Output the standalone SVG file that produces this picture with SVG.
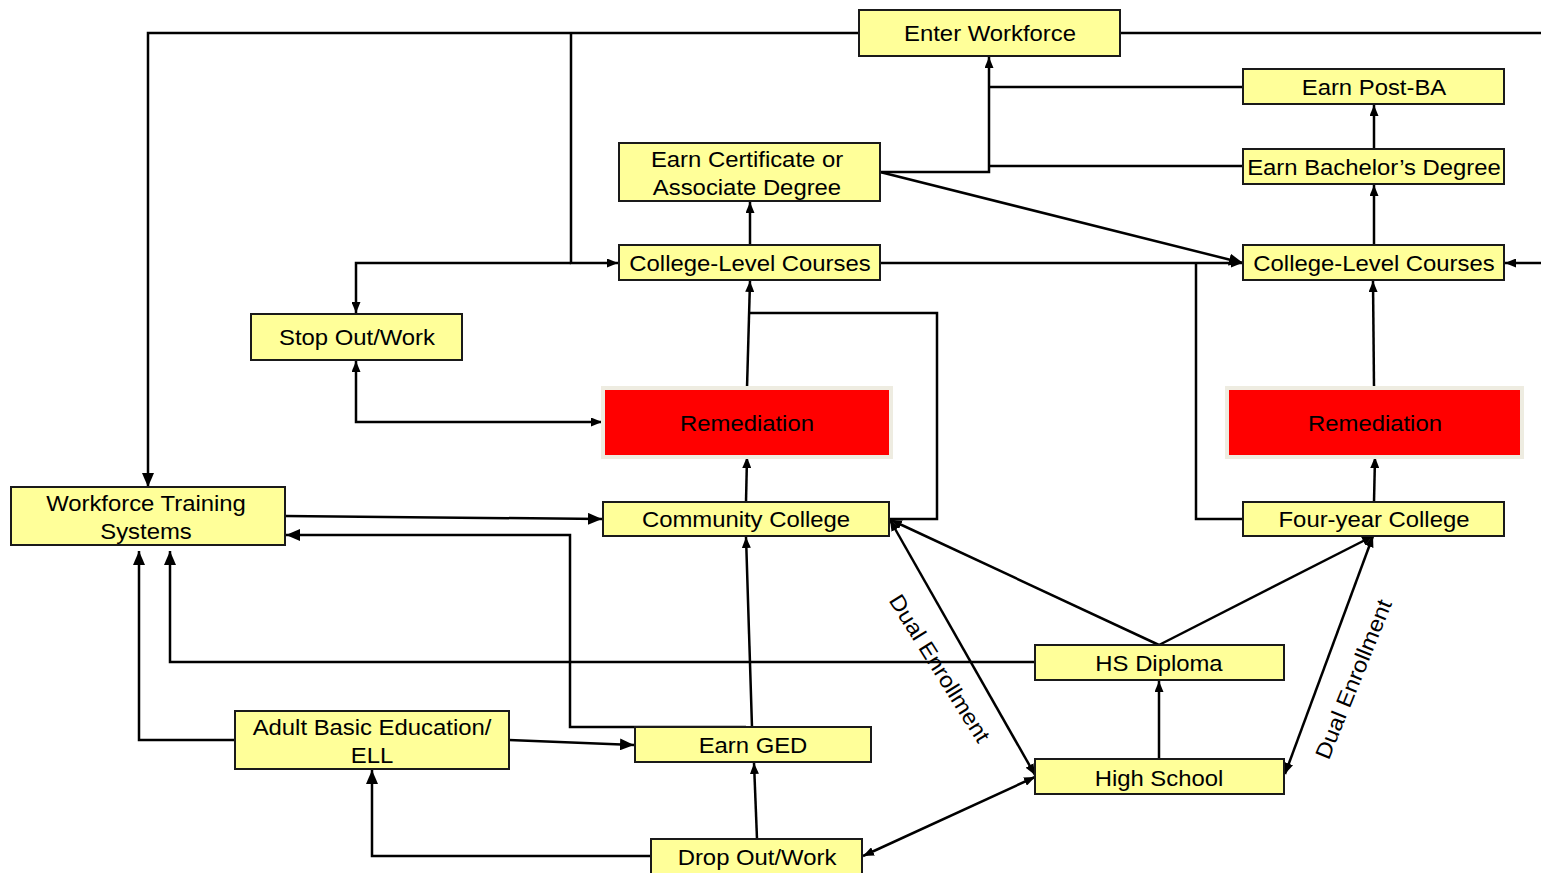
<svg xmlns="http://www.w3.org/2000/svg" width="1541" height="873" viewBox="0 0 1541 873">
<style>
.box{fill:#FFFF99;stroke:#1a1a1a;stroke-width:2}
.red{fill:#FF0000;stroke:#EEECE1;stroke-width:4}
.t{font-family:"Liberation Sans",Arial,sans-serif;font-size:22px;text-anchor:middle;fill:#000}
.c{fill:none;stroke:#000;stroke-width:2.5}
.s{marker-end:url(#a)}
.L{marker-end:url(#A)}
.d{marker-start:url(#a);marker-end:url(#a)}
</style>
<defs>
<marker id="a" viewBox="0 0 11 9" refX="11" refY="4.5" markerWidth="11" markerHeight="9" markerUnits="userSpaceOnUse" orient="auto-start-reverse"><path d="M0,0 L11,4.5 L0,9 z" fill="#000"/></marker>
<marker id="A" viewBox="0 0 14 12" refX="14" refY="6" markerWidth="14" markerHeight="12" markerUnits="userSpaceOnUse" orient="auto-start-reverse"><path d="M0,0 L14,6 L0,12 z" fill="#000"/></marker>
</defs>
<rect width="1541" height="873" fill="#fff"/>
<g id="connectors">
<path class="c L" d="M859,33 H148 V487"/>
<path class="c" d="M1120,33 H1541"/>
<path class="c s" d="M1541,263 H1505"/>
<path class="c s" d="M571,33 V263 H618"/>
<path class="c s" d="M571,263 H356 V313"/>
<path class="c d" d="M356,361 V422 H602"/>
<path class="c s" d="M747,388 L750,281"/>
<path class="c s" d="M746,502 L747,457"/>
<path class="c" d="M889,519 H937 V313 H750"/>
<path class="c s" d="M750,245 V202"/>
<path class="c s" d="M880,172 H989 V57"/>
<path class="c" d="M1243,87 H989"/>
<path class="c" d="M1243,166 H989"/>
<path class="c L" d="M880,172 L1243,263"/>
<path class="c s" d="M880,263 H1242"/>
<path class="c" d="M1243,519 H1196 V263"/>
<path class="c s" d="M1374,245 V185"/>
<path class="c s" d="M1374,149 V105"/>
<path class="c s" d="M1374,388 L1373,281"/>
<path class="c s" d="M1374,502 L1375,457"/>
<path class="c L" d="M285,516 L602,519"/>
<path class="c L" d="M746,727 H570 V535 H286"/>
<path class="c s" d="M752,727 L746,537"/>
<path class="c L" d="M509,740 L634,745"/>
<path class="c L" d="M235,740 H139 V551"/>
<path class="c L" d="M1035,662 H170 V551"/>
<path class="c L" d="M651,856 H372 V770"/>
<path class="c s" d="M757,839 L754,763"/>
<path class="c d" d="M863,856 L1035,777"/>
<path class="c d" d="M890,520 L1035,775"/>
<path class="c s" d="M1159,645 L891,520"/>
<path class="c s" d="M1159,645 L1373,536"/>
<path class="c s" d="M1159,759 V681"/>
<path class="c d" d="M1285,774 L1373,536"/>
<text class="t" transform="translate(940,668) rotate(58) scale(1.085 1)" y="8">Dual Enrollment</text>
<text class="t" transform="translate(1353,679) rotate(-68) scale(1.085 1)" y="8">Dual Enrollment</text>
</g>
<g id="enter-workforce"><rect class="box" x="859" y="10" width="261" height="46"/><text class="t" transform="translate(990,41) scale(1.085 1)">Enter Workforce</text></g>
<g id="earn-post-ba"><rect class="box" x="1243" y="69" width="261" height="35"/><text class="t" transform="translate(1374,95) scale(1.085 1)">Earn Post-BA</text></g>
<g id="earn-bachelors"><rect class="box" x="1243" y="149" width="261" height="35"/><text class="t" transform="translate(1374,175) scale(1.085 1)">Earn Bachelor’s Degree</text></g>
<g id="earn-certificate"><rect class="box" x="619" y="143" width="261" height="58"/><text class="t" transform="translate(747,167) scale(1.085 1)"><tspan x="0" y="0">Earn Certificate or</tspan><tspan x="0" y="28">Associate Degree</tspan></text></g>
<g id="college-courses-left"><rect class="box" x="619" y="245" width="261" height="35"/><text class="t" transform="translate(750,271) scale(1.085 1)">College-Level Courses</text></g>
<g id="college-courses-right"><rect class="box" x="1243" y="245" width="261" height="35"/><text class="t" transform="translate(1374,271) scale(1.085 1)">College-Level Courses</text></g>
<g id="stop-out"><rect class="box" x="251" y="314" width="211" height="46"/><text class="t" transform="translate(357,345) scale(1.085 1)">Stop Out/Work</text></g>
<g id="remediation-left"><rect class="red" x="603" y="388" width="288" height="69"/><text class="t" transform="translate(747,431) scale(1.085 1)">Remediation</text></g>
<g id="remediation-right"><rect class="red" x="1227" y="388" width="295" height="69"/><text class="t" transform="translate(1375,431) scale(1.085 1)">Remediation</text></g>
<g id="workforce-training"><rect class="box" x="11" y="487" width="274" height="58"/><text class="t" transform="translate(146,511) scale(1.085 1)"><tspan x="0" y="0">Workforce Training</tspan><tspan x="0" y="28">Systems</tspan></text></g>
<g id="community-college"><rect class="box" x="603" y="502" width="286" height="34"/><text class="t" transform="translate(746,527) scale(1.085 1)">Community College</text></g>
<g id="four-year-college"><rect class="box" x="1243" y="502" width="261" height="34"/><text class="t" transform="translate(1374,527) scale(1.085 1)">Four-year College</text></g>
<g id="hs-diploma"><rect class="box" x="1035" y="645" width="249" height="35"/><text class="t" transform="translate(1159,671) scale(1.085 1)">HS Diploma</text></g>
<g id="high-school"><rect class="box" x="1035" y="759" width="249" height="35"/><text class="t" transform="translate(1159,786) scale(1.085 1)">High School</text></g>
<g id="adult-basic"><rect class="box" x="235" y="711" width="274" height="58"/><text class="t" transform="translate(372,735) scale(1.085 1)"><tspan x="0" y="0">Adult Basic Education/</tspan><tspan x="0" y="28">ELL</tspan></text></g>
<g id="earn-ged"><rect class="box" x="635" y="727" width="236" height="35"/><text class="t" transform="translate(753,753) scale(1.085 1)">Earn GED</text></g>
<g id="drop-out"><rect class="box" x="651" y="839" width="211" height="45"/><text class="t" transform="translate(757,865) scale(1.085 1)">Drop Out/Work</text></g>
</svg>
